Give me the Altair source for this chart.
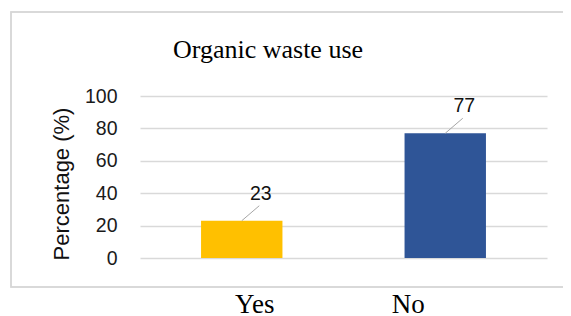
import altair as alt
import pandas as pd

categories = ["Yes", "No"]
values = [23, 77]
colors = ["#FFC000", "#2F5597"]
y_ticks = [0, 20, 40, 60, 80, 100]
title_text = "Organic waste use"
y_title = "Percentage (%)"

df = pd.DataFrame({"cat": categories, "val": values, "color": colors})

x_axis = alt.Axis(title=None, labelAngle=0, domain=False, ticks=False, grid=False,
                  labelFont="Liberation Serif", labelFontSize=27,
                  labelColor="#000000", labelPadding=33, labelOverlap=False,
                  labelOffset={"condition": {"test": "datum.value == 'Yes'", "value": 13}, "value": -37})
x_scale = alt.Scale(paddingInner=0, paddingOuter=0)
y_scale = alt.Scale(domain=[0, 100])

y_axis = alt.Axis(values=y_ticks, title=y_title, domain=False, ticks=False,
                  gridColor="#d9d9d9", gridWidth=1.3, labelOverlap=False,
                  labelFont="Liberation Sans", labelFontSize=19.5, labelColor="#1a1a1a",
                  labelPadding=23,
                  titleFont="Liberation Sans", titleFontSize=22, titleFontWeight="normal",
                  titleColor="#111111", titleX=-67, titleY=87.5,
                  titleAlign="center", titleBaseline="bottom", titleAngle=270)

xenc = alt.X("cat:N", sort=categories, bandPosition=0.5, scale=x_scale, axis=x_axis)
yenc = alt.Y("val:Q", scale=y_scale, axis=y_axis)

base = alt.Chart(df)

box = base.mark_rect(fill=None, stroke="#d6d6d6", strokeWidth=1.5).encode(
    x=alt.value(-129), x2=alt.value(600), y=alt.value(-84), y2=alt.value(191)
)

bars = base.mark_bar(width=alt.RelativeBandSize(0.4)).encode(
    x=alt.X("cat:N", sort=categories, scale=x_scale, axis=x_axis),
    y=yenc,
    color=alt.Color("color:N", scale=None),
)

leaders = base.mark_rule(color="#a6a6a6", strokeWidth=1, x2Offset=17.5, y2Offset=-15).encode(
    x=xenc, x2=alt.X2("cat:N"), y=yenc, y2=alt.Y2("val:Q")
)

labels = base.mark_text(font="Liberation Sans", fontSize=19.5, color="#111111",
                        baseline="alphabetic", align="center", dx=19, dy=-21).encode(
    x=xenc, y=yenc, text=alt.Text("val:Q")
)

title = alt.Chart(pd.DataFrame({"t": [title_text]})).mark_text(
    font="Liberation Serif", fontSize=26, color="#000000", align="center", baseline="alphabetic"
).encode(x=alt.value(128), y=alt.value(-38), text="t:N")

chart = alt.layer(box, bars, leaders, labels, title).properties(
    width=407, height=162,
    background="#ffffff",
    autosize=alt.AutoSizeParams(type="none"),
    padding={"left": 132, "top": 88, "right": 16, "bottom": 58},
).configure_view(strokeWidth=0, stroke="transparent")

chart.save("out.html", embed_options={"renderer": "svg", "actions": False})
